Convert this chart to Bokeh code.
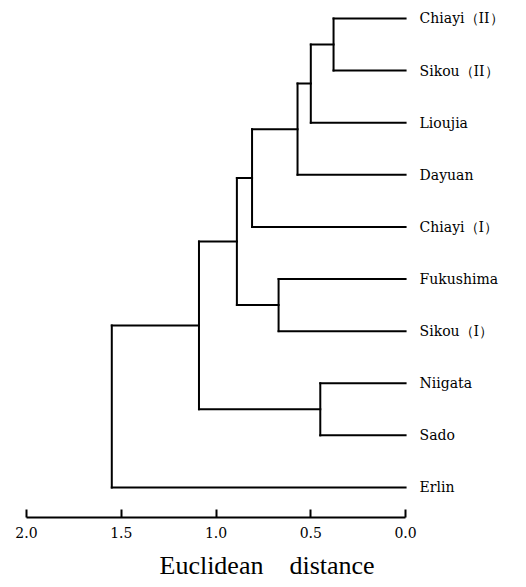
from bokeh.plotting import figure
from bokeh.models import Range1d, FixedTicker, NumeralTickFormatter, ColumnDataSource, Title
from bokeh.core.properties import value
from bokeh.embed import file_html
from bokeh.resources import INLINE

# Leaves, top to bottom
leaves = ["Chiayi（II）", "Sikou（II）", "Lioujia", "Dayuan", "Chiayi（I）",
          "Fukushima", "Sikou（I）", "Niigata", "Sado", "Erlin"]

# Linkage: node indices 0..9 are leaves, 10.. are merged clusters
merge_a = [0, 10, 11, 12, 5, 13, 7, 15, 17]
merge_b = [1, 2, 3, 4, 6, 14, 8, 16, 9]
merge_dist = [0.38, 0.50, 0.57, 0.81, 0.67, 0.89, 0.45, 1.09, 1.55]

tick_values = [2.0, 1.5, 1.0, 0.5, 0.0]
x_label = "Euclidean\u00a0\u00a0\u00a0\u00a0distance"

n = len(leaves)
ypos = [float(n - 1 - i) for i in range(n)]
hgt = [0.0] * n
for a, b, d in zip(merge_a, merge_b, merge_dist):
    ypos.append((ypos[a] + ypos[b]) / 2.0)
    hgt.append(d)

x0, y0, x1, y1 = [], [], [], []
for a, b, d in zip(merge_a, merge_b, merge_dist):
    x0.append(d); y0.append(ypos[a]); x1.append(d); y1.append(ypos[b])
    for c in (a, b):
        x0.append(hgt[c]); y0.append(ypos[c]); x1.append(d); y1.append(ypos[c])

seg_src = ColumnDataSource(dict(x0=x0, y0=y0, x1=x1, y1=y1))
lab_src = ColumnDataSource(dict(x=[0.0] * n, y=ypos[:n], text=leaves))

p = figure(width=526, height=587, output_backend="svg", toolbar_location=None,
           x_range=Range1d(2.0, -0.638), y_range=Range1d(-0.576, 9.345),
           min_border_left=26, min_border_right=0, min_border_top=0, min_border_bottom=70)

p.segment("x0", "y0", "x1", "y1", source=seg_src, line_color="black",
          line_width=2, line_cap="square")
p.text("x", "y", text="text", source=lab_src, x_offset=14, text_align="left",
       text_baseline="middle", text_font=value("DejaVu Serif"),
       text_font_size="14px", text_color="black")

p.yaxis.visible = False
p.xgrid.visible = False
p.ygrid.visible = False
p.outline_line_color = None
p.background_fill_color = "white"
p.border_fill_color = "white"

ax = p.xaxis[0]
ax.ticker = FixedTicker(ticks=tick_values)
ax.formatter = NumeralTickFormatter(format="0.0")
ax.bounds = (0.0, 2.0)
ax.axis_line_width = 2
ax.axis_line_color = "black"
ax.major_tick_line_width = 2
ax.major_tick_line_color = "black"
ax.major_tick_in = 8
ax.major_tick_out = 0
ax.minor_tick_line_color = None
ax.major_label_standoff = 9
ax.major_label_text_font = "DejaVu Serif"
ax.major_label_text_font_size = "14px"
ax.major_label_text_color = "black"

t = Title(text=x_label, align="left", offset=133, text_font="Liberation Serif",
          text_font_size="26px", text_font_style="normal", text_color="black",
          standoff=16)
p.add_layout(t, "below")

open("out.html", "w").write(file_html(p, INLINE))
